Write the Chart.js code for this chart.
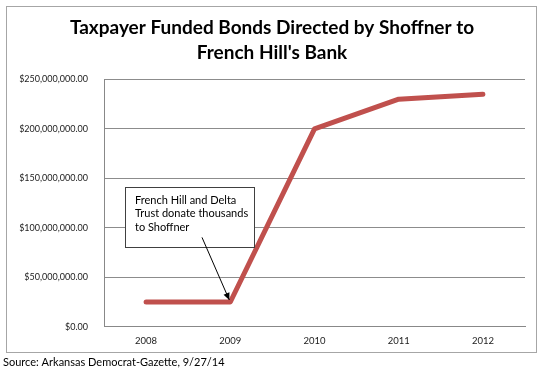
<!DOCTYPE html>
<html>
<head>
<meta charset="utf-8">
<script src="https://cdn.jsdelivr.net/npm/chart.js@4"></script>
<style>
  html,body{margin:0;padding:0;background:#fff;}
  #wrap{width:544px;height:373px;position:relative;}
</style>
</head>
<body>
<div id="wrap"><canvas id="c" width="544" height="373"></canvas></div>
<script>
const categories = ['2008', '2009', '2010', '2011', '2012'];
const bondValues = [25000000, 25000000, 200000000, 230000000, 235000000];
const titleLines = ["Taxpayer Funded Bonds Directed by Shoffner to", "French Hill's Bank"];
const sourceText = 'Source: Arkansas Democrat-Gazette, 9/27/14';
const noteLines = ['French Hill and Delta', 'Trust donate thousands', 'to Shoffner'];
const noteIndex = 1;
const yMin = 0, yMax = 250000000, yStep = 50000000;

const FONT = 'Lato, "Open Sans", sans-serif';

const decor = {
  id: 'decor',
  beforeDraw(chart) {
    const ctx = chart.ctx;
    ctx.save();
    ctx.fillStyle = '#fff';
    ctx.fillRect(0, 0, chart.width, chart.height);
    ctx.strokeStyle = '#a6a6a6';
    ctx.lineWidth = 1;
    ctx.strokeRect(6.5, 6.5, 530, 346);
    ctx.restore();
  },
  afterDraw(chart) {
    const ctx = chart.ctx;
    const area = chart.chartArea;
    const xs = chart.scales.x, ys = chart.scales.y;
    ctx.save();
    // source
    ctx.fillStyle = '#000';
    ctx.font = '11px ' + FONT;
    ctx.textBaseline = 'middle';
    ctx.textAlign = 'left';
    ctx.fillText(sourceText, 3, 362);
    // annotation box
    const bx = area.left + 21, by = area.top + 108, bw = 129, bh = 60;
    ctx.fillStyle = '#fff';
    ctx.fillRect(bx, by, bw, bh);
    ctx.strokeStyle = '#404040';
    ctx.lineWidth = 1;
    ctx.strokeRect(Math.round(bx) + 0.5, Math.round(by) + 0.5, bw, bh);
    ctx.fillStyle = '#000';
    ctx.font = '11px ' + FONT;
    noteLines.forEach((t, i) => ctx.fillText(t, bx + 10, by + 13 + i * 13.5));
    // arrow to point
    const px = xs.getPixelForValue(noteIndex);
    const py = ys.getPixelForValue(bondValues[noteIndex]);
    const sx = bx + 77, sy = by + bh - 10;
    const ex = px - 1, ey = py - 2;
    ctx.strokeStyle = '#000';
    ctx.beginPath();
    ctx.moveTo(sx, sy);
    ctx.lineTo(ex, ey);
    ctx.stroke();
    const ang = Math.atan2(ey - sy, ex - sx);
    const hl = 7, hw = 3.2;
    ctx.beginPath();
    ctx.moveTo(ex, ey);
    ctx.lineTo(ex - hl * Math.cos(ang) + hw * Math.sin(ang), ey - hl * Math.sin(ang) - hw * Math.cos(ang));
    ctx.lineTo(ex - hl * Math.cos(ang) - hw * Math.sin(ang), ey - hl * Math.sin(ang) + hw * Math.cos(ang));
    ctx.closePath();
    ctx.fillStyle = '#000';
    ctx.fill();
    ctx.restore();
  }
};

new Chart(document.getElementById('c'), {
  type: 'line',
  data: {
    labels: categories,
    datasets: [{
      data: bondValues,
      borderColor: '#c0504d',
      borderWidth: 5,
      borderCapStyle: 'round',
      borderJoinStyle: 'round',
      pointRadius: 0,
      tension: 0,
      fill: false
    }]
  },
  options: {
    responsive: false,
    animation: false,
    devicePixelRatio: 1,
    layout: { padding: { left: 19, right: 19, top: 0, bottom: 0 } },
    plugins: {
      legend: { display: false },
      tooltip: { enabled: false },
      title: {
        display: true,
        text: titleLines,
        color: '#000',
        font: { family: FONT, size: 19, weight: 'bold', lineHeight: 1.3 },
        padding: { top: 16, bottom: 14 }
      }
    },
    scales: {
      x: {
        offset: true,
        grid: { display: false, drawTicks: false },
        border: { display: true, color: '#888', width: 1 },
        ticks: { color: '#222', font: { family: FONT, size: 9.5 }, padding: 9, maxRotation: 0 },
        afterFit(s) { s.height = 46.3; }
      },
      y: {
        min: yMin, max: yMax,
        grid: { color: '#8c8c8c', lineWidth: 1, drawTicks: false },
        border: { display: true, color: '#888', width: 1 },
        ticks: {
          stepSize: yStep,
          color: '#222',
          font: { family: FONT, size: 9 },
          padding: 16,
          callback: v => '$' + Number(v).toLocaleString('en-US', { minimumFractionDigits: 2, maximumFractionDigits: 2 })
        },
        afterFit(s) { s.width = 85; }
      }
    }
  },
  plugins: [decor]
});
</script>
</body>
</html>
